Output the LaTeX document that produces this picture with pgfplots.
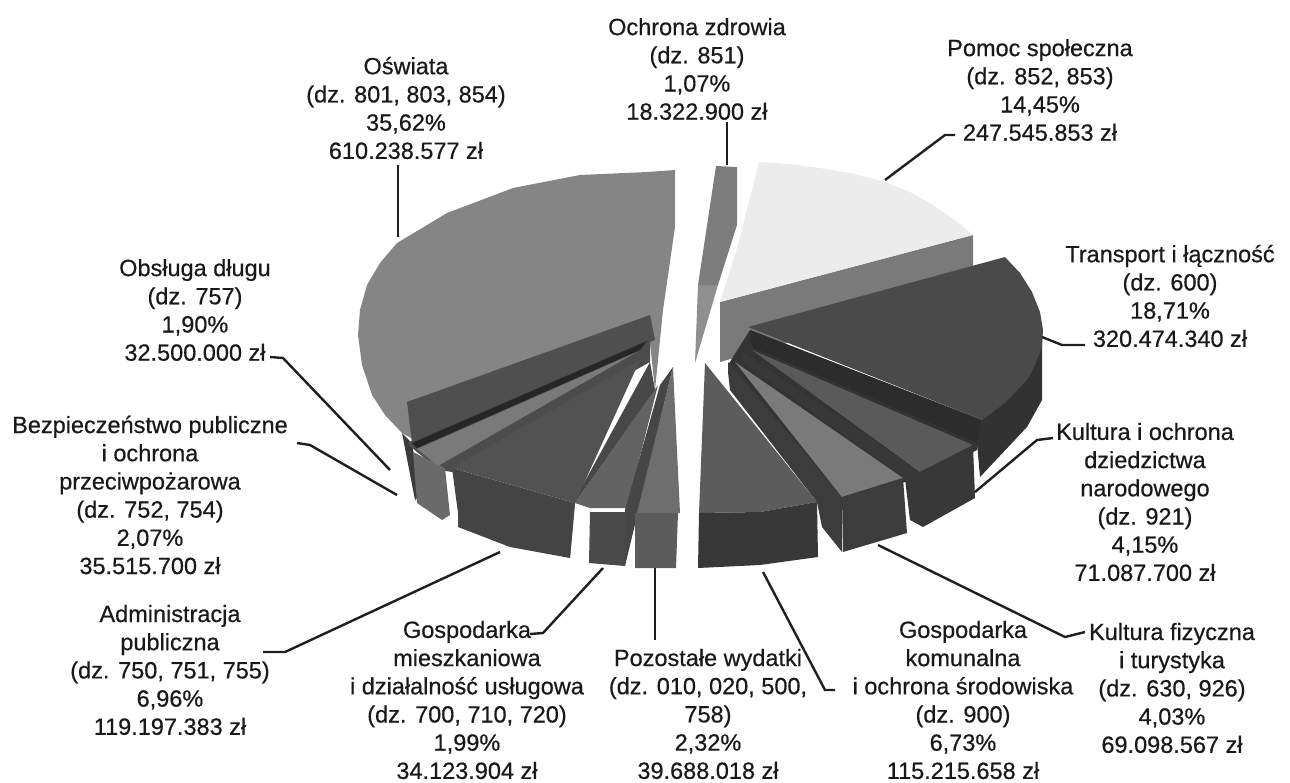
\documentclass[border=0pt]{standalone}
\usepackage{fontspec}
\setmainfont[FakeBold=0.5]{Liberation Sans}
\usepackage{pgfplots}
\pgfplotsset{compat=1.18}
\newcommand\Pg[2]{\addplot[fill={rgb,255:red,#1;green,#1;blue,#1},draw=none,forget plot] coordinates {#2} --cycle;}
\newcommand\Ln[1]{\addplot[draw=black!88,line width=2.4pt,forget plot] coordinates {#1};}
\newcommand\Lb[3]{\node[align=center,text=black!90,inner sep=0pt,font=\fontsize{23.5}{28.2}\selectfont] at (axis cs:#1,#2) {#3};}
\begin{document}
\begin{tikzpicture}
\begin{axis}[width=1290pt,height=782pt,scale only axis,xmin=0,xmax=1290,ymin=0,ymax=782,y dir=reverse,hide axis,clip=false]
\path (axis cs:0,0) rectangle (axis cs:1290,782);
% Pomoc spoleczna
\Pg{122}{(973,235)(973,290)(720,362)(720,302)}
\Pg{236}{(759,162)(790,164)(820,168)(855,174)(885,182)(912,193)(933,205)(955,220)(973,235)(720,302)(738,245)}
% Ochrona zdrowia
\Pg{143}{(698,285)(718,285)(695,363)}
\Pg{125}{(716,166)(737,167)(737,225)(718,285)(698,285)}
% Oswiata
\Pg{133}{(675,170)(647,172)(580,175)(513,188)(447,213)(397,243)(380,263)(367,285)(360,310)(358,335)(362,365)(372,395)(385,415)(402,433)(420,443)(650,343)(655,390)(663,310)(675,227)}
\Pg{79}{(650,315)(407,402)(412,443)(647,343)(655,340)}
% Obsluga dlugu / Bezpieczenstwo
\Pg{60}{(402,433)(415,500)(420,495)(412,443)}
\Pg{76}{(407,443)(650,340)(650,362)(452,472)(440,470)(417,452)}
\Pg{38}{(412,443)(647,341)(640,350)(417,448)}
\Pg{106}{(413,452)(445,468)(450,515)(442,520)(417,503)}
\Pg{122}{(637,352)(438,466)(417,449)}
% Administracja
\Pg{68}{(452,468)(575,503)(570,558)(510,547)(458,527)(458,513)}
\Pg{72}{(650,362)(655,390)(575,503)(570,558)(572,505)}
\Pg{82}{(640,360)(575,503)(452,468)}
% Gospodarka mieszkaniowa
\Pg{99}{(658,385)(627,508)(590,508)(575,503)}
\Pg{74}{(590,512)(625,512)(625,566)(589,563)}
\Pg{70}{(673,367)(625,566)(625,510)(660,385)}
% Pozostale
\Pg{110}{(673,367)(680,513)(637,513)}
\Pg{92}{(635,513)(678,513)(676,568)(635,568)}
% Komunalna
\Pg{92}{(705,363)(817,502)(760,512)(699,513)}
\Pg{56}{(699,513)(760,512)(817,502)(818,557)(760,565)(698,568)}
% inner dark fill between the right-hand slices
\Pg{52}{(750,330)(982,420)(977,450)(920,480)(905,482)(842,500)(728,365)}
% Kultura fizyczna
\Pg{60}{(728,362)(842,497)(842,552)(822,527)(817,502)(730,390)(728,372)}
\Pg{122}{(735,362)(903,478)(842,497)}
\Pg{60}{(842,497)(903,478)(907,533)(843,552)}
% Kultura i ochrona
\Pg{56}{(743,352)(920,472)(907,480)(743,362)}
\Pg{90}{(752,350)(973,445)(920,472)}
\Pg{56}{(920,472)(973,445)(975,498)(923,527)(910,520)(905,479)}
% Transport
\Pg{50}{(1042,340)(1042,400)(1027,427)(980,477)(977,443)(982,420)}
\Pg{44}{(750,330)(752,347)(977,443)(982,420)}
\Pg{74}{(1005,257)(1020,273)(1032,292)(1040,312)(1043,330)(1042,347)(1035,365)(1027,380)(1005,403)(982,420)(748,327)}
% Leaders
\Ln{(727,122)(727,165)}
\Ln{(885,180)(945,135)(955,135)}
\Ln{(398,165)(398,237)}
\Ln{(1042,337)(1062,345)(1085,345)}
\Ln{(975,492)(1037,440)(1053,438)}
\Ln{(878,545)(1065,637)(1085,632)}
\Ln{(763,572)(825,690)(835,690)}
\Ln{(655,568)(655,640)}
\Ln{(603,568)(543,633)(530,634)}
\Ln{(500,552)(285,652)(263,652)}
\Ln{(297,443)(310,445)(397,495)}
\Ln{(270,357)(283,358)(390,470)}
% Labels
\Lb{697}{69}{Ochrona zdrowia\\(dz. 851)\\1,07\%\\18.322.900 zł}
\Lb{1040}{90}{Pomoc społeczna\\(dz. 852, 853)\\14,45\%\\247.545.853 zł}
\Lb{406}{108}{Oświata\\(dz. 801, 803, 854)\\35,62\%\\610.238.577 zł}
\Lb{1170}{296}{Transport i łączność\\(dz. 600)\\18,71\%\\320.474.340 zł}
\Lb{195}{310}{Obsługa długu\\(dz. 757)\\1,90\%\\32.500.000 zł}
\Lb{150}{495}{Bezpieczeństwo publiczne\\i ochrona\\przeciwpożarowa\\(dz. 752, 754)\\2,07\%\\35.515.700 zł}
\Lb{170}{670}{Administracja\\publiczna\\(dz. 750, 751, 755)\\6,96\%\\119.197.383 zł}
\Lb{467}{700}{Gospodarka\\mieszkaniowa\\i działalność usługowa\\(dz. 700, 710, 720)\\1,99\%\\34.123.904 zł}
\Lb{708}{714}{Pozostałe wydatki\\(dz. 010, 020, 500,\\758)\\2,32\%\\39.688.018 zł}
\Lb{963}{700}{Gospodarka\\komunalna\\i ochrona środowiska\\(dz. 900)\\6,73\%\\115.215.658 zł}
\Lb{1172}{688}{Kultura fizyczna\\i turystyka\\(dz. 630, 926)\\4,03\%\\69.098.567 zł}
\Lb{1145}{502}{Kultura i ochrona\\dziedzictwa\\narodowego\\(dz. 921)\\4,15\%\\71.087.700 zł}
\end{axis}
\end{tikzpicture}
\end{document}
